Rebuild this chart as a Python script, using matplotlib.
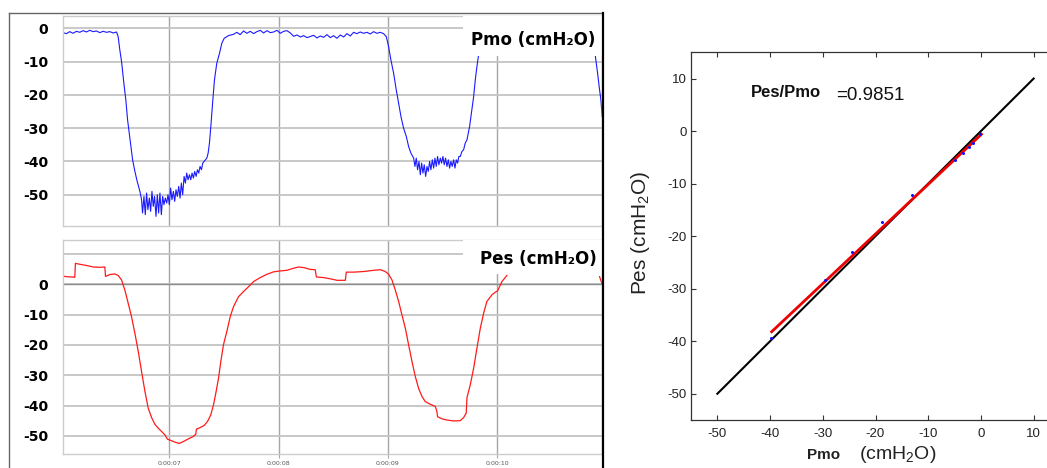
"""
Pmo / Pes traces (left) and Pes vs Pmo occlusion test (right).
"""
import numpy as np
import matplotlib
matplotlib.use("Agg")
from matplotlib import pyplot as plt
from matplotlib.patches import Rectangle
from matplotlib.lines import Line2D

plt.rcParams['mathtext.default'] = 'regular'

# ---- data ----
# mouth pressure, cmH2O (nan = hidden behind the label box)
pmo_t = [6.028, 6.058, 6.089, 6.119, 6.150, 6.180, 6.211, 6.242, 6.272, 6.303,
         6.333, 6.364, 6.394, 6.425, 6.456, 6.486, 6.517, 6.532, 6.547, 6.563,
         6.584, 6.602, 6.618, 6.633, 6.648, 6.664, 6.685, 6.706, 6.731, 6.746,
         6.755, 6.768, 6.780, 6.792, 6.804, 6.817, 6.829, 6.841, 6.853, 6.865,
         6.878, 6.890, 6.902, 6.914, 6.927, 6.939, 6.951, 6.963, 6.976, 6.988,
         7.000, 7.012, 7.024, 7.037, 7.049, 7.061, 7.073, 7.086, 7.098, 7.110,
         7.122, 7.135, 7.147, 7.159, 7.171, 7.184, 7.196, 7.208, 7.220, 7.232,
         7.245, 7.257, 7.269, 7.281, 7.294, 7.306, 7.318, 7.330, 7.343,
         7.355, 7.367, 7.382, 7.398, 7.413, 7.434, 7.459, 7.480, 7.502, 7.541,
         7.587, 7.618, 7.648, 7.679, 7.709, 7.740, 7.771, 7.801, 7.832, 7.862,
         7.893, 7.924, 7.954, 7.985, 8.015, 8.046, 8.076, 8.107, 8.138, 8.168,
         8.199, 8.229, 8.260, 8.320, 8.351, 8.381, 8.412, 8.442, 8.473, 8.503,
         8.533, 8.564, 8.595, 8.625, 8.655, 8.686, 8.716, 8.747, 8.777, 8.808,
         8.838, 8.869, 8.899, 8.930, 8.960,
         8.985, 9.006, 9.027, 9.052, 9.076, 9.098, 9.119, 9.143, 9.168, 9.189,
         9.210, 9.235, 9.247, 9.259, 9.271, 9.284, 9.296, 9.308, 9.320, 9.332,
         9.345, 9.357, 9.369, 9.381, 9.393, 9.406, 9.418, 9.430, 9.442, 9.454,
         9.466, 9.479, 9.491, 9.503, 9.515, 9.527, 9.540, 9.552, 9.564, 9.576,
         9.588, 9.601, 9.613, 9.625, 9.637, 9.649, 9.662,
         9.677, 9.692, 9.707, 9.723, 9.747, 9.768, 9.784, 9.799, 9.814, 9.829,
         9.851, 10.870,
         10.896, 10.918, 10.936, 10.948, 10.960]
pmo_v = [-1.3, -1.6, -1.0, -1.5, -0.9, -1.2, -0.7, -1.1, -0.6, -1.0,
         -0.8, -1.3, -0.9, -1.2, -1.0, -1.4, -1.1, -2.5, -6.5, -10.0,
         -16.5, -21.5, -27.5, -31.5, -35.5, -39.5, -43.0, -46.0, -49.0, -51.5,
         -55.5, -50.5, -56.0, -49.5, -54.5, -51.0, -55.0, -49.0, -53.5, -50.5,
         -56.5, -50.0, -55.5, -49.5, -56.0, -50.5, -53.0, -51.0, -52.5, -50.0,
         -53.0, -48.0, -51.5, -49.0, -52.0, -48.5, -50.5, -47.5, -51.0, -46.5,
         -50.0, -44.5, -46.5, -43.5, -45.5, -44.0, -45.5, -43.5, -45.0, -43.0,
         -44.5, -42.5, -43.5, -41.5, -42.5, -40.5, -40.0, -39.5, -39.0,
         -37.5, -34.5, -28.5, -21.5, -15.5, -10.5, -7.5, -4.5, -3.0, -2.2,
         -1.8, -1.2, -1.9, -0.8, -1.5, -0.9, -1.6, -1.0, -0.6, -1.4,
         -0.7, -1.3, -1.1, -0.6, -1.5, -0.9, -0.7, -1.4, -2.4, -2.0,
         -2.6, -2.2, -2.8, -2.1, -2.9, -2.3, -2.7, -1.9, -2.8, -2.2,
         -3.0, -2.0, -2.6, -1.6, -2.3, -1.2, -1.6, -1.1, -1.5, -1.2,
         -1.7, -1.0, -1.5, -1.2, -1.6,
         -2.5, -5.5, -9.5, -13.5, -18.5, -22.5, -26.5, -30.0, -32.5, -35.5,
         -37.5, -39.0, -41.5, -39.0, -42.5, -40.0, -44.0, -40.5, -43.5, -41.0,
         -44.5, -41.5, -43.0, -40.0, -42.5, -39.5, -42.0, -39.0, -41.5, -38.5,
         -41.0, -39.0, -40.5, -38.5, -41.0, -39.0, -41.5, -39.5, -42.0, -40.0,
         -41.5, -39.5, -42.0, -39.5, -40.5, -38.5, -38.5,
         -37.0, -36.5, -34.5, -33.5, -29.5, -24.5, -20.5, -15.5, -11.5, -8.0,
         -3.0, np.nan,
         -8.0, -13.5, -18.5, -21.5, -26.5]

# oesophageal pressure, cmH2O
pes_t = [6.028, 6.058, 6.104, 6.135, 6.141, 6.180, 6.242, 6.303, 6.364, 6.410,
         6.416, 6.456, 6.502, 6.532, 6.563, 6.593, 6.624, 6.654, 6.685, 6.716,
         6.746, 6.777, 6.807, 6.838, 6.868, 6.899, 6.930, 6.960, 6.982, 7.012,
         7.052, 7.092, 7.128, 7.174, 7.220, 7.242, 7.248, 7.281, 7.318, 7.349,
         7.379, 7.404, 7.428, 7.450, 7.471, 7.495, 7.526, 7.557, 7.587, 7.633,
         7.679, 7.725, 7.771, 7.832, 7.893, 7.954, 8.015, 8.076, 8.138, 8.183,
         8.229, 8.290, 8.335, 8.345, 8.412, 8.473, 8.534, 8.610, 8.619, 8.686,
         8.777, 8.869, 8.930, 8.976, 9.006, 9.037, 9.067, 9.098, 9.128, 9.159,
         9.189, 9.220, 9.250, 9.280, 9.311, 9.341, 9.387, 9.433, 9.448, 9.454,
         9.494, 9.540, 9.601, 9.662, 9.692, 9.716, 9.723, 9.753, 9.784, 9.814,
         9.845, 9.875, 9.905, 9.951, 9.982, 10.003, 10.043, 10.088, 10.500,
         10.936, 10.960]
pes_v = [2.7, 2.5, 2.4, 2.3, 6.9, 6.6, 6.2, 5.7, 5.6, 5.7,
         2.6, 3.2, 3.4, 2.9, 1.4, -1.9, -6.3, -10.7, -16.2, -22.2,
         -28.8, -35.4, -40.9, -44.0, -46.2, -47.5, -48.6, -49.7, -51.1, -51.5,
         -52.1, -52.5, -51.9, -51.0, -50.2, -49.5, -47.8, -47.3, -46.6, -45.3,
         -43.1, -39.8, -35.4, -31.0, -25.5, -20.0, -15.6, -10.7, -7.4, -4.1,
         -2.4, -0.8, 0.9, 2.2, 3.3, 4.1, 4.4, 4.6, 5.3, 5.7,
         5.5, 4.9, 4.8, 2.4, 2.2, 1.8, 1.3, 1.3, 4.0, 4.0,
         4.2, 4.6, 4.8, 4.2, 3.3, 1.4, -1.9, -5.7, -10.1, -14.5,
         -20.0, -25.5, -30.4, -34.3, -37.0, -38.7, -39.6, -40.3, -42.0, -43.7,
         -44.4, -44.8, -45.1, -45.0, -44.0, -42.5, -37.4, -33.2, -27.7, -21.1,
         -14.5, -9.6, -5.7, -3.5, -2.6, -2.2, 0.9, 2.9, np.nan,
         2.5, 0.0]

time_ticks = [7, 8, 9, 10]
time_labels = ['0:00:07', '0:00:08', '0:00:09', '0:00:10']
pmo_yticks = [0, -10, -20, -30, -40, -50]
pes_yticks = [10, 0, -10, -20, -30, -40, -50]
pes_ylabels = ['', '0', '-10', '-20', '-30', '-40', '-50']

# scatter: Pes against Pmo
pts_pmo = [-39.8, -29.6, -24.5, -18.7, -13.0, -4.9, -3.4, -2.3, -1.5, -0.1]
pts_pes = [-39.4, -28.3, -23.0, -17.3, -12.1, -5.5, -4.1, -3.0, -2.2, -0.5]
fit_pmo = [-39.7, 0.1]
fit_pes = [-38.2, -0.6]
ident = [-50, 10]
ratio = 0.9851
sc_ticks = [-50, -40, -30, -20, -10, 0, 10]

W, H = 1047, 468
def px_box(l, t, r, b):
    return [l/W, 1-b/H, (r-l)/W, (b-t)/H]

fig = plt.figure(figsize=(W/100, H/100), dpi=100)

ax1 = fig.add_axes(px_box(63.3, 16, 602.3, 226))
ax2 = fig.add_axes(px_box(63.3, 239.7, 602.3, 454))
ax3 = fig.add_axes(px_box(691, 52.3, 1060, 420))

bold = dict(family='DejaVu Sans', weight='bold', size=10)

for ax in (ax1, ax2):
    ax.set_xlim(6.030, 10.961)
    ax.set_xticks(time_ticks)
    ax.grid(axis='y', color='#c4c4c4', lw=1.3)
    ax.grid(axis='x', color='#a6a6a6', lw=1.0)
    for s in ax.spines.values():
        s.set_color('#cccccc')
        s.set_linewidth(1.0)
    ax.tick_params(axis='y', length=0, pad=11)

ax1.plot(pmo_t, pmo_v, color='#1a1aff', lw=0.8)
ax1.set_ylim(-59.4, 3.7)
ax1.set_yticks(pmo_yticks)
ax1.set_yticklabels([str(v) for v in pmo_yticks], fontdict=bold)
ax1.tick_params(axis='x', length=0, labelbottom=False)
ax1.add_patch(Rectangle((0.7415, 0.81), 0.3, 0.25, transform=ax1.transAxes,
                        facecolor='white', edgecolor='none', zorder=3))
ax1.text(0.871, 0.886, 'Pmo (cmH\u2082O)', transform=ax1.transAxes, ha='center',
         va='center', fontsize=12, fontweight='bold', family='DejaVu Sans', zorder=4)

ax2.plot(pes_t, pes_v, color='#ff1a1a', lw=0.9)
ax2.axhline(0, color='#8c8c8c', lw=1.0, zorder=1.6)
ax2.set_ylim(-56, 14.7)
ax2.set_yticks(pes_yticks)
ax2.set_yticklabels(pes_ylabels, fontdict=bold)
ax2.set_xticklabels(time_labels, fontsize=4.5, color='#555555')
ax2.tick_params(axis='x', length=3, color='#a6a6a6', pad=2)
ax2.add_patch(Rectangle((0.7415, 0.84), 0.3, 0.2, transform=ax2.transAxes,
                        facecolor='white', edgecolor='none', zorder=3))
ax2.text(0.881, 0.91, 'Pes (cmH\u2082O)', transform=ax2.transAxes, ha='center',
         va='center', fontsize=12, fontweight='bold', family='DejaVu Sans', zorder=4)

# frame round the left panel
fig.add_artist(Line2D([9.3/W, 9.3/W], [0, 1-13.3/H], color='#666666', lw=1.0))
fig.add_artist(Line2D([9.3/W, 602.3/W], [1-13.3/H, 1-13.3/H], color='#666666', lw=1.0))
fig.add_artist(Line2D([602.8/W, 602.8/W], [0, 1-13.3/H], color='black', lw=1.6))

# right panel
sans = 'Liberation Sans'
ax3.plot(ident, ident, color='black', lw=1.5, zorder=2)
ax3.plot(fit_pmo, fit_pes, color='#ee0000', lw=2, zorder=3)
ax3.plot(pts_pmo, pts_pes, 'o', color='#1010ff', ms=2.2, mew=0, zorder=4)
ax3.set_xlim(-55, 15)
ax3.set_ylim(-55, 15)
ax3.set_xticks(sc_ticks)
ax3.set_yticks(sc_ticks)
ax3.set_xticklabels([str(v) for v in sc_ticks], family=sans, fontsize=9.5, color='#222222')
ax3.set_yticklabels([str(v) for v in sc_ticks], family=sans, fontsize=9.5, color='#222222')
ax3.tick_params(direction='in', length=3.5, width=0.8, top=True, right=False, color='#333333')
ax3.tick_params(axis='x', pad=6)
ax3.tick_params(axis='y', pad=3)
for s in ax3.spines.values():
    s.set_color('#333333')
    s.set_linewidth(0.9)
ax3.spines['right'].set_visible(False)

ax3.set_ylabel('Pes (cmH$_2$O)', family=sans, fontsize=15, color='#222222')
ax3.yaxis.set_label_coords(-0.136, 0.508)
ax3.yaxis.label.set_verticalalignment('center')

ax3.text(0.3136, -0.106, 'Pmo', transform=ax3.transAxes, ha='left', va='baseline',
         family=sans, fontsize=11, fontweight='bold', color='#222222')
ax3.text(0.456, -0.106, '(cmH$_2$O)', transform=ax3.transAxes, ha='left', va='baseline',
         family=sans, fontsize=14, color='#222222')

ax3.text(-43.6, 6.4, 'Pes/Pmo', ha='left', va='baseline', family=sans,
         fontsize=12, fontweight='bold', color='#111111')
ax3.text(-27.5, 5.95, '=%.4f' % ratio, ha='left', va='baseline', family=sans,
         fontsize=13.5, color='#111111')

fig.savefig('out.png', dpi=100)
